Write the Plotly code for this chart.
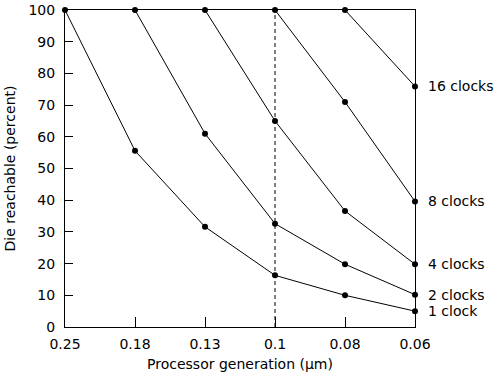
import plotly.graph_objects as go

generations = ["0.25", "0.18", "0.13", "0.1", "0.08", "0.06"]
series_names = ["1 clock", "2 clocks", "4 clocks", "8 clocks", "16 clocks"]
clock1 = [100, 55.6, 31.6, 16.3, 10.0, 5.0]
clock2 = [None, 100, 61.0, 32.6, 19.8, 10.2]
clock4 = [None, None, 100, 65.0, 36.6, 19.8]
clock8 = [None, None, None, 100, 71.0, 39.6]
clock16 = [None, None, None, None, 100, 75.9]
all_series = [clock1, clock2, clock4, clock8, clock16]

FONT = "DejaVu Sans"
xs = list(range(len(generations)))

fig = go.Figure()
for name, vals in zip(series_names, all_series):
    px = [x for x, v in zip(xs, vals) if v is not None]
    py = [v for v in vals if v is not None]
    fig.add_trace(go.Scatter(
        x=px, y=py, mode="lines+markers", name=name,
        line=dict(color="black", width=1),
        marker=dict(color="black", size=6),
        cliponaxis=False, showlegend=False,
    ))
    fig.add_annotation(
        x=px[-1], y=py[-1], xref="x", yref="y", text=name,
        showarrow=False, xanchor="left", yanchor="middle", xshift=11,
        font=dict(family=FONT, size=14, color="black"),
    )

fig.add_shape(type="line", xref="x", yref="y", x0=3, x1=3, y0=0, y1=100,
              line=dict(color="black", width=1, dash="4px,3px"))

fig.update_layout(
    width=500, height=381,
    margin=dict(l=65, r=85, t=10, b=54, autoexpand=False),
    paper_bgcolor="white", plot_bgcolor="white",
    font=dict(family=FONT, size=13, color="black"),
    xaxis=dict(
        range=[0, 5], tickmode="array", tickvals=xs, ticktext=generations,
        ticks="inside", ticklen=10, tickwidth=1, tickcolor="black",
        showline=True, linecolor="black", linewidth=1, mirror=True,
        showgrid=False, zeroline=False, automargin=False,
        tickfont=dict(family=FONT, size=14), ticklabeloverflow="allow",
        ticklabelstandoff=4,
        title=dict(text="Processor generation (µm)", font=dict(family=FONT, size=14), standoff=8),
    ),
    yaxis=dict(
        range=[0, 100], tickmode="array", tickvals=list(range(0, 101, 10)),
        ticks="inside", ticklen=8, tickwidth=1, tickcolor="black",
        showline=True, linecolor="black", linewidth=1, mirror=True,
        showgrid=False, zeroline=False, automargin=False,
        tickfont=dict(family=FONT, size=14), ticklabeloverflow="allow",
        ticklabelstandoff=6,
        title=dict(text="Die reachable (percent)", font=dict(family=FONT, size=14), standoff=9),
    ),
)

fig.write_html("out.html", config={"displayModeBar": False},
               post_script="document.body.style.margin='0';")
